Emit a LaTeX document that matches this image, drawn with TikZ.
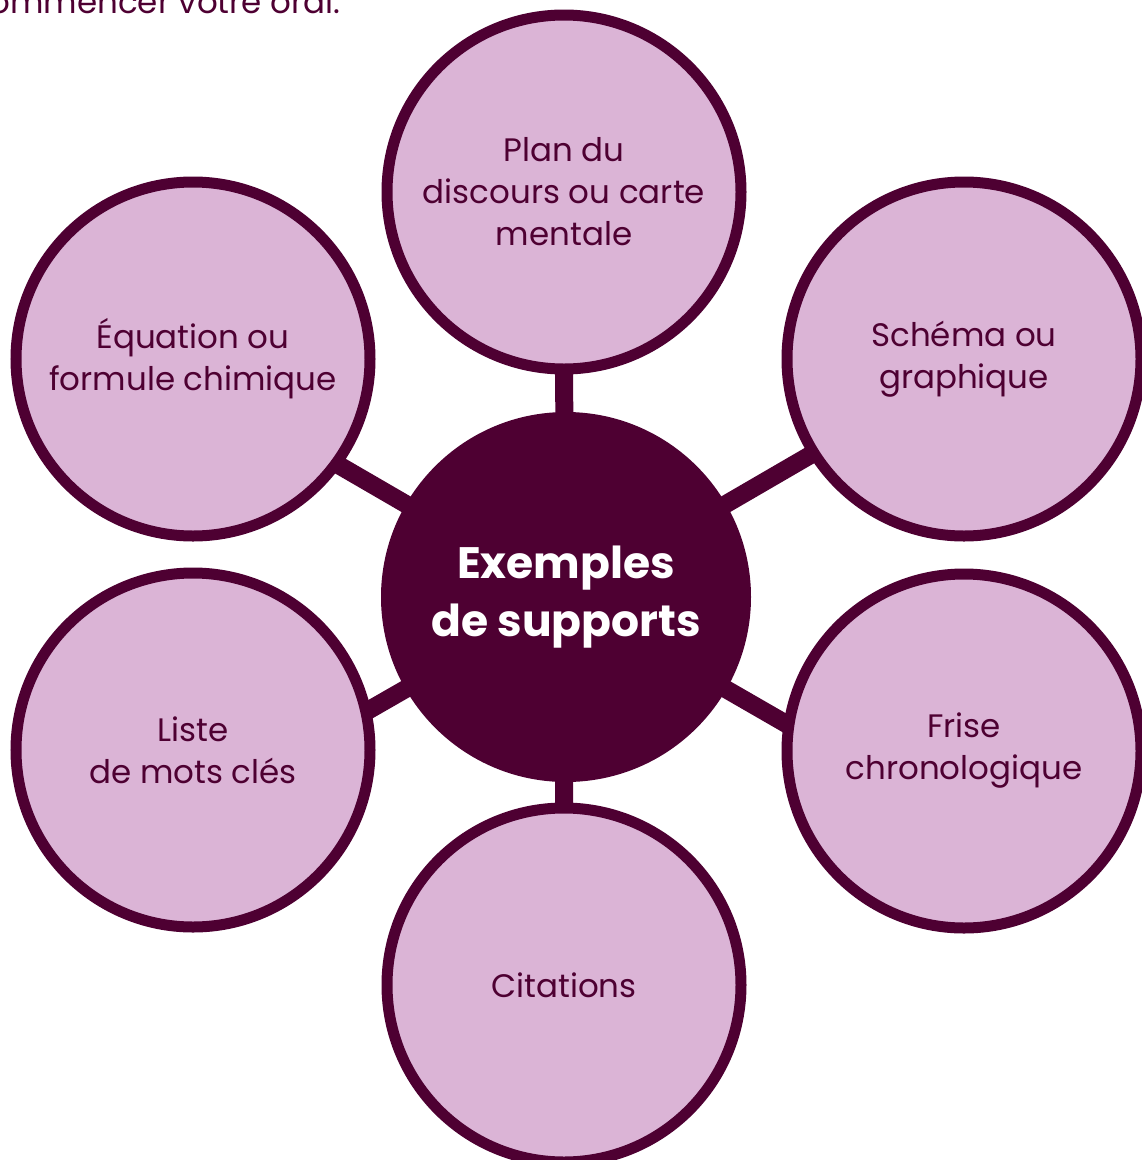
\documentclass[tikz,border=0pt]{standalone}
\usepackage{fontspec}
\setmainfont{Poppins}
\usetikzlibrary{backgrounds}
\definecolor{prune}{HTML}{4E0032}
\definecolor{mauve}{HTML}{DBB4D6}
\tikzset{
	bulle/.style={circle, draw=prune, line width=11pt, fill=mauve, minimum size=354pt,
		inner sep=0pt, align=center, text=prune, font=\fontsize{32.5}{42}\selectfont},
	coeur/.style={circle, fill=prune, minimum size=370pt, inner sep=0pt, align=center,
		text=white, font=\fontsize{44}{58}\selectfont\bfseries},
	lien/.style={draw=prune, line width=18pt, shorten >=-20pt}
}
\begin{document}
\begin{tikzpicture}[x=1pt, y=-1pt]
	\useasboundingbox (0,0) rectangle (1142,1160);
	\clip (0,0) rectangle (1142,1160);
	\node[anchor=base east, text=prune, font=\fontsize{32.5}{42}\selectfont] (intro) at (344,13) {commencer votre oral.};
	\node[coeur] (ctr) at (566,597) {Exemples\\de supports};
	\node[bulle] (plan) at (564,192) {Plan du\\discours ou carte\\mentale};
	\node[bulle] (schema) at (964,359) {Schéma ou\\graphique};
	\node[bulle] (frise) at (964,751) {Frise\\chronologique};
	\node[bulle] (cit) at (564,985) {Citations};
	\node[bulle] (liste) at (193,750) {Liste\\de mots clés};
	\node[bulle] (equa) at (193,359) {Équation ou\\formule chimique};
	\begin{scope}[on background layer]
		\foreach \n/\a in {plan/270,schema/212,frise/171,cit/90,liste/13,equa/324}
			\draw[lien] (ctr.center) -- (\n.\a);
	\end{scope}
\end{tikzpicture}
\end{document}
